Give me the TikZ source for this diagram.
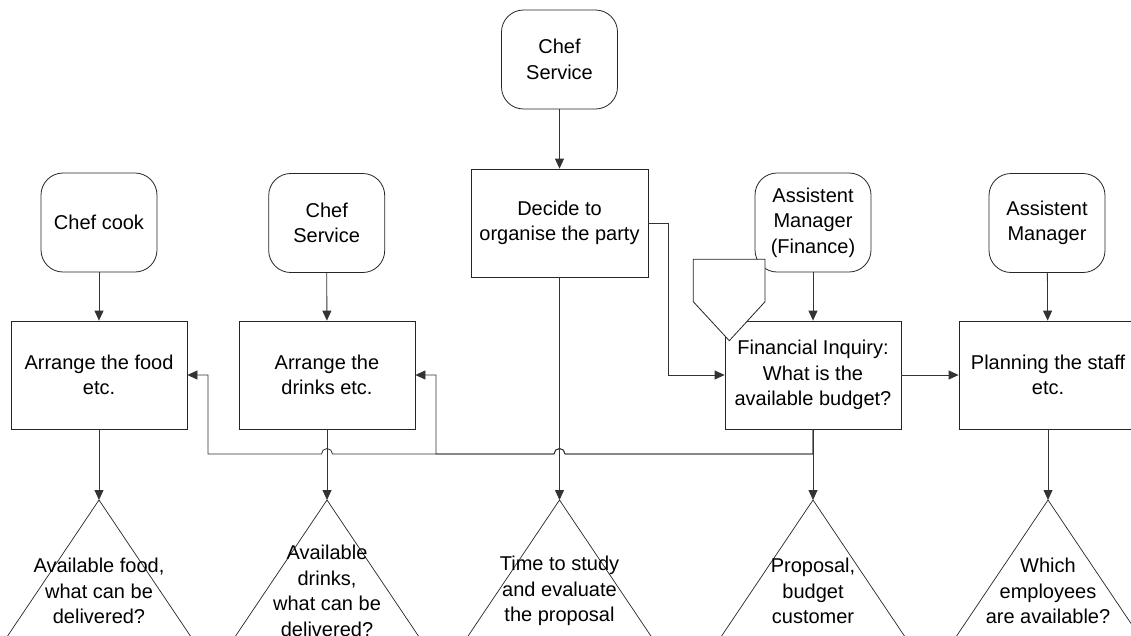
\documentclass[tikz,border=0pt]{standalone}
\usepackage{fontspec}
\setmainfont{Liberation Sans}
\usetikzlibrary{arrows.meta}
\tikzset{
  role/.style={draw=black!85, line width=0.8pt, rounded corners=22pt, minimum width=116pt, minimum height=99pt, align=center, inner sep=2pt},
  task/.style={draw=black!85, line width=0.8pt, fill=white, minimum width=177pt, minimum height=108pt, align=center, inner sep=2pt},
  conn/.style={draw=black!80, line width=0.8pt, -{Triangle[length=10pt,width=9pt]}},
  trilbl/.style={align=center, inner sep=0pt},
  trishape/.style={draw=black!85, line width=0.7pt},
  tag/.style={draw=black!85, line width=0.8pt, fill=white},
}
\begin{document}
\begin{tikzpicture}[x=1pt, y=-1pt, font=\fontsize{20}{25.5}\selectfont]
\clip (0,0) rectangle (1131,635);
\fill[white] (0,0) rectangle (1131,635);

% roles
\node[role] (chefTop) at (559.5,59.5) {Chef\\Service};
\node[role] (cook) at (99,222.5) {Chef cook};
\node[role] (serv) at (326.7,223) {Chef\\Service};
\node[role] (amf) at (813,222.5) {Assistent\\Manager\\(Finance)};
\node[role] (am) at (1047,223) {Assistent\\Manager};

% tasks
\node[task] (decide) at (559.5,223) {Decide to\\organise the party};
\node[task, minimum width=176pt] (food) at (99,375) {Arrange the food\\etc.};
\node[task, minimum width=176pt] (drinks) at (327,375) {Arrange the\\drinks etc.};
\node[task, minimum width=176pt] (fin) at (813,375) {Financial Inquiry:\\What is the\\available budget?};
\node[task, minimum width=178pt] (plan) at (1048,375) {Planning the staff\\etc.};

% triangles
\coordinate (t1) at (99,500);
\coordinate (t2) at (327,500);
\coordinate (t3) at (559.5,500);
\coordinate (t4) at (813,500);
\coordinate (t5) at (1048,500);
\foreach \t in {t1,t2,t3,t4,t5}{
  \draw[trishape] ([xshift=-121pt,yshift=-180pt]\t) -- (\t) -- ([xshift=121pt,yshift=-180pt]\t);
}
\node[trilbl] (l1) at (99,591) {Available food,\\what can be\\delivered?};
\node[trilbl] (l2) at (327,591) {Available\\drinks,\\what can be\\delivered?};
\node[trilbl] (l3) at (559.5,591) {Time to study\\and evaluate\\the proposal};
\node[trilbl] (l4) at (813,591) {Proposal,\\budget\\customer};
\node[trilbl] (l5) at (1048,591) {Which\\employees\\are available?};

% vertical connectors
\draw[conn] (chefTop) -- (decide);
\draw[conn] (cook) -- (food);
\draw[conn] (serv) -- (drinks);
\draw[conn] (amf) -- (fin);
\draw[conn] (am) -- (plan);
\draw[conn] (food.south) -- (t1);
\draw[conn] (drinks.south) -- (t2);
\draw[conn] (decide.south) -- (t3);
\draw[conn] (fin.south) -- (t4);
\draw[conn] (plan.south) -- (t5);

% decide -> financial inquiry
\draw[conn] (decide.east) -- ++(20,0) |- (fin.west);
% financial inquiry -> planning
\draw[conn] (fin.east) -- (plan.west);

% bus back to food and drinks, with line hops
\coordinate (bj) at (813,454);
\draw[conn] (fin.south) -- (bj)
  -- ([xshift=5.5pt]decide.south |- bj) arc[start angle=0, end angle=180, radius=5.5pt]
  -- ([xshift=5.5pt]drinks.south |- bj) arc[start angle=0, end angle=180, radius=5.5pt]
  -- (208,454) |- (food.east);
\draw[conn] (fin.south) -- (bj)
  -- ([xshift=5.5pt]decide.south |- bj) arc[start angle=0, end angle=180, radius=5.5pt]
  -- (436,454) |- (drinks.east);

% off-page tag on financial inquiry
\draw[tag] (693.3,259.3) -- (765,259.3) -- (765,301.7) -- (729.3,340.7) -- (693.3,301.7) -- cycle;
\end{tikzpicture}
\end{document}
